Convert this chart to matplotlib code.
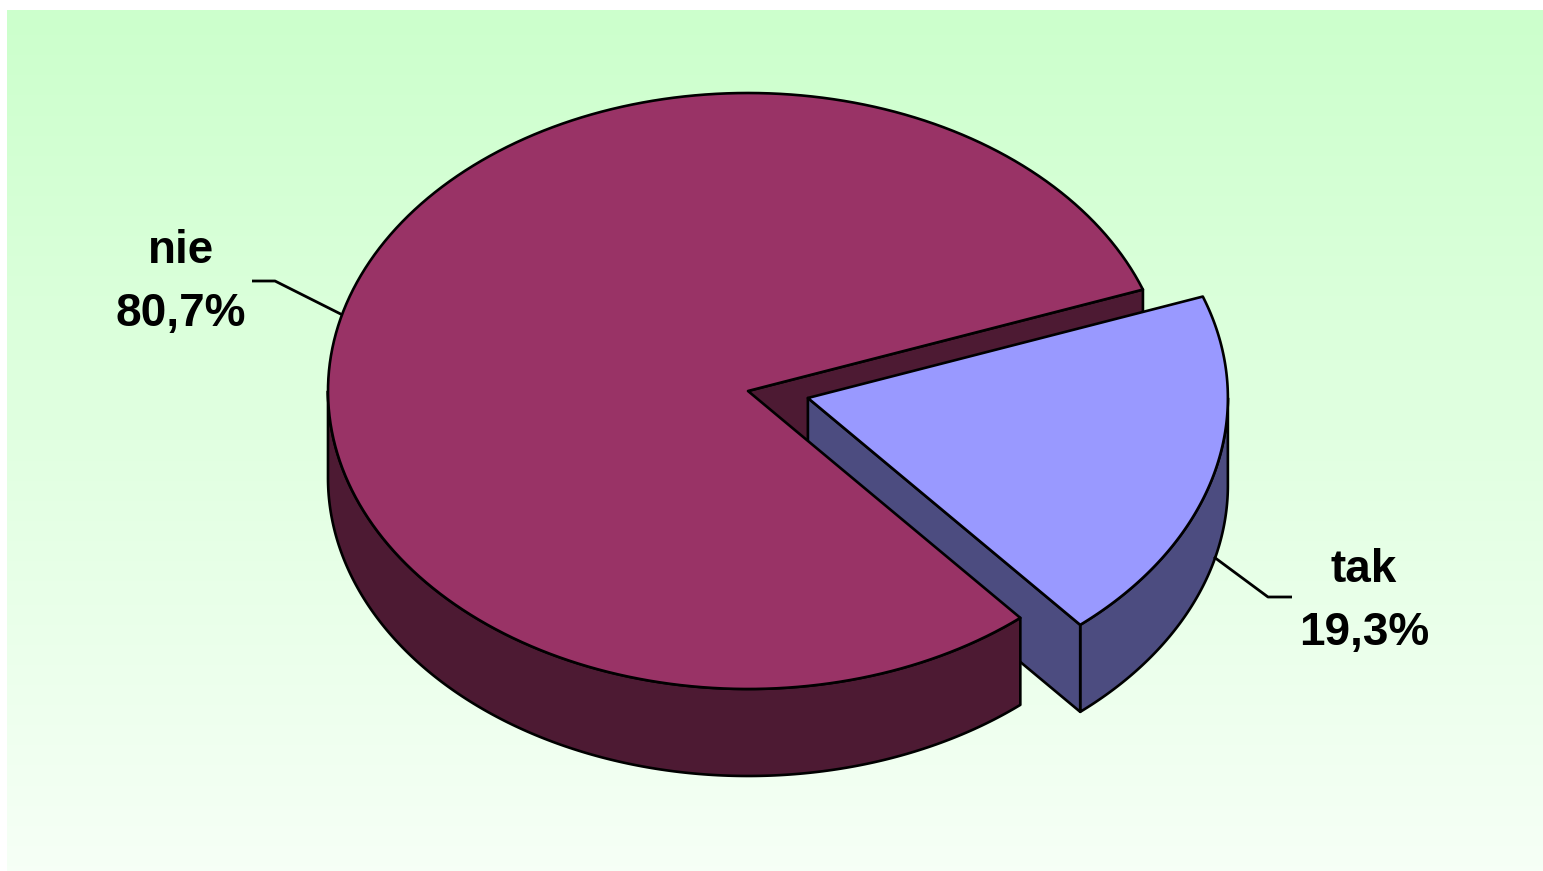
import numpy as np
import matplotlib
matplotlib.use("Agg")
import matplotlib.pyplot as plt
from matplotlib.patches import Polygon
from matplotlib.colors import LinearSegmentedColormap

# ---- data ----
categories = ["tak", "nie"]
values = [19.3, 80.7]
top_colors = ["#9999ff", "#993366"]
side_colors = ["#4c4c80", "#4d1a33"]
explode = [0.1475, 0.0]
first_slice_angle = 70.1  # degrees, clockwise from 12 o'clock

# ---- layout ----
W, H = 1543, 871
cx, cy = 748.0, 391.0      # pie centre (pixels)
a, b = 420.0, 298.0        # ellipse radii
depth = 87.0               # pie thickness
k_explode_y = 0.62         # vertical foreshortening of explode offset
label_pos = [(1364, 582), (181, 263)]
label_line_gap = 63
leader_elbow = [(1268, 597), (275, 281)]
leader_tail = [(1292, 597), (252, 281)]
anchor_depth = [0.95, 0.0]

fig = plt.figure(figsize=(W / 100, H / 100), dpi=100)
ax = fig.add_axes([0, 0, 1, 1])
ax.set_xlim(0, W)
ax.set_ylim(H, 0)
ax.axis("off")

# background gradient
grad = np.linspace(0, 1, 256).reshape(-1, 1)
cmap = LinearSegmentedColormap.from_list("bg", ["#ccffcc", "#f6fff6"])
ax.imshow(grad, cmap=cmap, extent=(7, W, H, 11), aspect="auto", zorder=0,
          interpolation="bilinear")


def pt(theta, ox, oy, dz=0.0):
    t = np.radians(theta)
    return (cx + ox + a * np.cos(t), cy + oy - b * np.sin(t) + dz)


def arc(t1, t2, ox, oy, dz=0.0, n=200):
    ts = np.linspace(t1, t2, n)
    return [pt(t, ox, oy, dz) for t in ts]


slices = []
cum = 0.0
for i, v in enumerate(values):
    s_cw = first_slice_angle + cum * 3.6
    e_cw = s_cw + v * 3.6
    cum += v
    ts = 90 - s_cw   # higher angle
    te = 90 - e_cw   # lower angle
    mid = (ts + te) / 2
    ox = explode[i] * a * np.cos(np.radians(mid))
    oy = -explode[i] * b * k_explode_y * np.sin(np.radians(mid))
    slices.append(dict(ts=ts, te=te, mid=mid, ox=ox, oy=oy))

lw = 1.9
sides = []
for i, s in enumerate(slices):
    ts, te, ox, oy = s["ts"], s["te"], s["ox"], s["oy"]
    # outer wall (front half only)
    for k in range(-3, 3):
        lo = max(te, -180 + 360 * k)
        hi = min(ts, 360 * k)
        if hi > lo:
            top = arc(lo, hi, ox, oy)
            bot = arc(hi, lo, ox, oy, depth)
            poly = top + bot
            sides.append((max(p[1] for p in poly), poly, side_colors[i]))
    apex = (cx + ox, cy + oy)
    apex_b = (cx + ox, cy + oy + depth)
    # radial faces
    for edge, normal in ((ts, ts + 90), (te, te - 90)):
        if np.sin(np.radians(normal)) < 0:
            c_top = pt(edge, ox, oy)
            c_bot = pt(edge, ox, oy, depth)
            poly = [apex, c_top, c_bot, apex_b]
            sides.append((max(p[1] for p in poly), poly, side_colors[i]))

sides.sort(key=lambda x: x[0])
z = 2
for _, poly, col in sides:
    ax.add_patch(Polygon(poly, closed=True, facecolor=col, edgecolor="black",
                         lw=lw, joinstyle="round", zorder=z))
    z += 1

for i, s in enumerate(slices):
    apex = (cx + s["ox"], cy + s["oy"])
    poly = [apex] + arc(s["ts"], s["te"], s["ox"], s["oy"])
    ax.add_patch(Polygon(poly, closed=True, facecolor=top_colors[i],
                         edgecolor="black", lw=lw, joinstyle="round", zorder=z))
    z += 1

# labels + leader lines
for i, s in enumerate(slices):
    anc = pt(s["mid"], s["ox"], s["oy"], anchor_depth[i] * depth)
    xs = [anc[0], leader_elbow[i][0], leader_tail[i][0]]
    ys = [anc[1], leader_elbow[i][1], leader_tail[i][1]]
    ax.plot(xs, ys, color="black", lw=2.0, zorder=z, solid_capstyle="butt")
    lx, ly = label_pos[i]
    pct = f"{values[i]:.1f}%".replace(".", ",")
    ax.text(lx, ly, categories[i], ha="center", va="baseline",
            fontsize=33, fontweight="bold", family="Liberation Sans",
            color="black", zorder=z)
    ax.text(lx, ly + label_line_gap, pct, ha="center", va="baseline",
            fontsize=33, fontweight="bold", family="Liberation Sans",
            color="black", zorder=z)

fig.savefig("out.png", dpi=100)
